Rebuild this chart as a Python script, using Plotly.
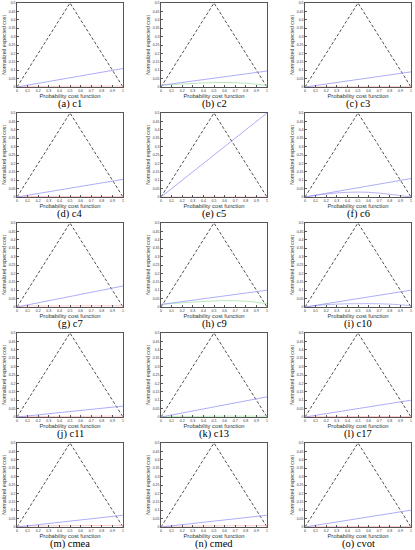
import plotly.graph_objects as go

# --- data ---
panel_names = ["(a) c1", "(b) c2", "(c) c3", "(d) c4", "(e) c5", "(f) c6",
               "(g) c7", "(h) c9", "(i) c10", "(j) c11", "(k) c13", "(l) c17",
               "(m) cmea", "(n) cmed", "(o) cvot"]

triangle_x = [0, 0.5, 1]
triangle_y = [0, 0.5, 0]

line_x = [0, 1]
blue_y = [
    [0.0, 0.11], [0.01, 0.095], [0.0, 0.09], [0.0, 0.105], [0.0, 0.5],
    [0.0, 0.11], [0.0, 0.125], [0.015, 0.10], [0.0, 0.10], [0.0, 0.065],
    [0.0, 0.12], [0.0, 0.10], [0.0, 0.07], [0.0, 0.07], [0.0, 0.10],
]

curve_x = [0, 0.2, 0.4, 0.6, 0.8, 1.0]
second_y = [
    [0.004, 0.004, 0.004, 0.005, 0.005, 0.005],
    [0.01, 0.018, 0.024, 0.027, 0.022, 0.01],
    [0.0, 0.001, 0.001, 0.002, 0.002, 0.002],
    [0.003, 0.003, 0.003, 0.003, 0.003, 0.003],
    [0.0, 0.0, 0.0, 0.0, 0.0, 0.0],
    [0.0, 0.018, 0.028, 0.028, 0.016, 0.0],
    [0.005, 0.006, 0.006, 0.007, 0.007, 0.008],
    [0.015, 0.025, 0.033, 0.038, 0.034, 0.02],
    [0.0, 0.014, 0.019, 0.02, 0.017, 0.008],
    [0.003, 0.003, 0.004, 0.004, 0.005, 0.005],
    [0.003, 0.004, 0.004, 0.005, 0.005, 0.005],
    [0.002, 0.002, 0.003, 0.003, 0.003, 0.003],
    [0.005, 0.006, 0.007, 0.008, 0.009, 0.01],
    [0.004, 0.005, 0.006, 0.007, 0.008, 0.008],
    [0.002, 0.002, 0.003, 0.003, 0.003, 0.003],
]
second_color = ["#ffb0b0", "#9edc9e", "#ffb0b0", "#ffb0b0", "#ffb0b0", "#a08cf0",
                "#ffb0b0", "#9edc9e", "#9a9af5", "#ffb0b0", "#9edc9e", "#ffb0b0",
                "#ffb0b0", "#ffb0b0", "#ffb0b0"]

x_ticks = [0, 0.1, 0.2, 0.3, 0.4, 0.5, 0.6, 0.7, 0.8, 0.9, 1]
x_ticklabels = ["0", "0.1", "0.2", "0.3", "0.4", "0.5", "0.6", "0.7", "0.8", "0.9", "1"]
y_ticks = [0, 0.05, 0.1, 0.15, 0.2, 0.25, 0.3, 0.35, 0.4, 0.45, 0.5]
y_ticklabels = ["0", "0.05", "0.1", "0.15", "0.2", "0.25", "0.3", "0.35", "0.4", "0.45", "0.5"]

# --- layout in pixels ---
W, H = 415, 550
col_left = [17, 161, 305]
plot_w = 106
row_top = [3, 113, 223, 333, 443]
plot_h = 84

fig = go.Figure()
layout = {}
annotations = []

for i, name in enumerate(panel_names):
    r, c = divmod(i, 3)
    n = i + 1
    xa = "x" if n == 1 else f"x{n}"
    ya = "y" if n == 1 else f"y{n}"

    fig.add_trace(go.Scatter(x=triangle_x, y=triangle_y, mode="lines",
                             line=dict(color="#222", width=0.8, dash="3px,2px"),
                             xaxis=xa, yaxis=ya, showlegend=False))
    fig.add_trace(go.Scatter(x=curve_x, y=second_y[i], mode="lines",
                             line=dict(color=second_color[i], width=0.7, shape="spline"),
                             xaxis=xa, yaxis=ya, showlegend=False))
    fig.add_trace(go.Scatter(x=line_x, y=blue_y[i], mode="lines",
                             line=dict(color="#9898f5", width=0.8),
                             xaxis=xa, yaxis=ya, showlegend=False))

    x0 = col_left[c] / W
    x1 = (col_left[c] + plot_w) / W
    y1 = 1 - row_top[r] / H
    y0 = 1 - (row_top[r] + plot_h) / H

    axis_common = dict(showline=True, linecolor="#555", linewidth=0.6, mirror=True,
                       showgrid=False, zeroline=False, ticks="inside", ticklen=2,
                       tickcolor="#555", tickwidth=0.5, automargin=False,
                       tickfont=dict(size=3.5, color="#333"))
    layout["xaxis" if n == 1 else f"xaxis{n}"] = dict(
        domain=[x0, x1], anchor=ya, range=[0, 1], tickvals=x_ticks,
        ticktext=x_ticklabels,
        title=dict(text="Probability cost function", font=dict(size=5.8, color="#333"),
                   standoff=1),
        **axis_common)
    layout["yaxis" if n == 1 else f"yaxis{n}"] = dict(
        domain=[y0, y1], anchor=xa, range=[0, 0.5], tickvals=y_ticks,
        ticktext=y_ticklabels,
        title=dict(text="Normalized expected cost", font=dict(size=5.2, color="#333"),
                   standoff=1),
        **axis_common)

    annotations.append(dict(
        text=name, xref="paper", yref="paper", showarrow=False,
        x=(col_left[c] + plot_w / 2) / W, y=1 - (row_top[r] + 101) / H,
        xanchor="center", yanchor="middle",
        font=dict(family="Liberation Serif, serif", size=10.5, color="black")))

fig.update_layout(width=W, height=H, margin=dict(l=0, r=0, t=0, b=0),
                  paper_bgcolor="white", plot_bgcolor="white",
                  font=dict(family="Liberation Sans, Arial, sans-serif"),
                  annotations=annotations, **layout)

# the page body has a default 8px margin; drop it so the figure fills the window
fig.write_html("out.html", config={"displayModeBar": False},
               post_script="document.body.style.margin = '0';")
